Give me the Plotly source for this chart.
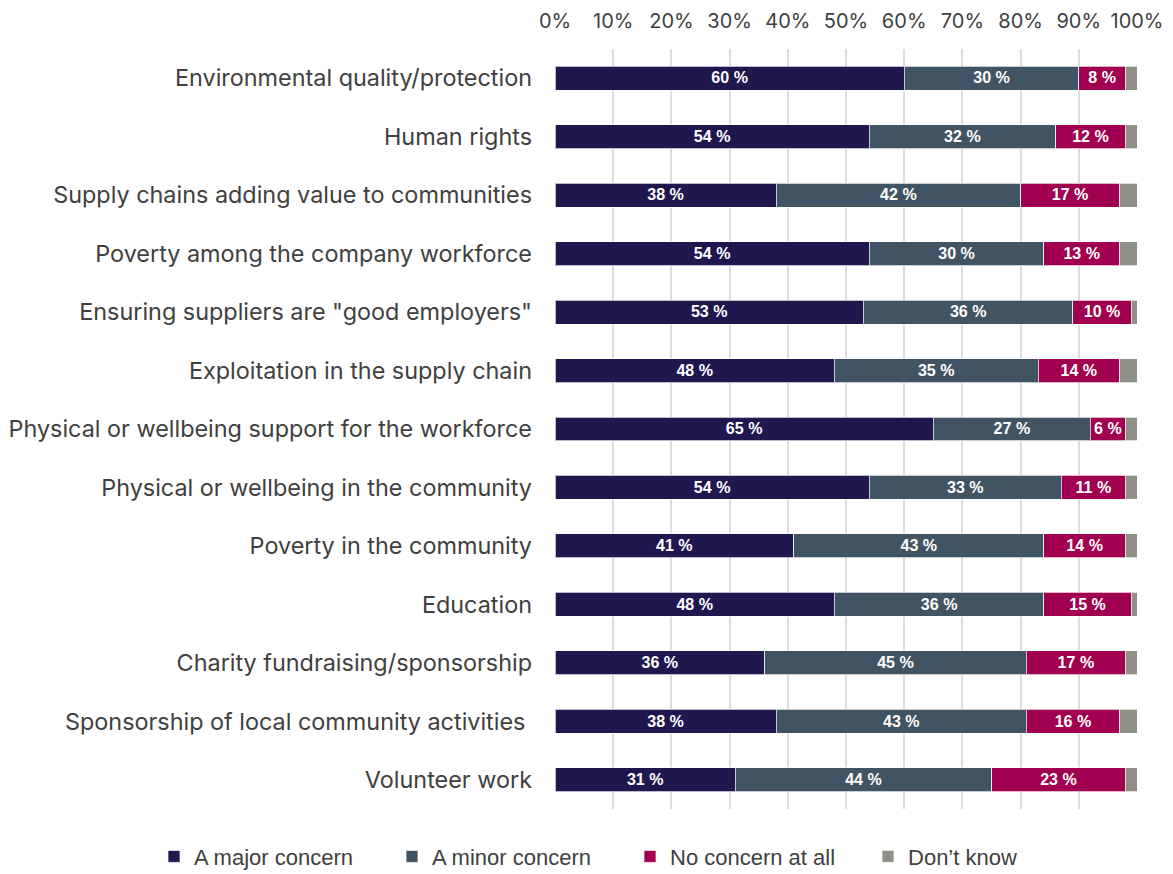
import plotly.graph_objects as go

categories = [
    "Environmental quality/protection",
    "Human rights",
    "Supply chains adding value to communities",
    "Poverty among the company workforce",
    'Ensuring suppliers are "good employers"',
    "Exploitation in the supply chain",
    "Physical or wellbeing support for the workforce",
    "Physical or wellbeing in the community",
    "Poverty in the community",
    "Education",
    "Charity fundraising/sponsorship",
    "Sponsorship of local community activities ",
    "Volunteer work",
]
major_concern = [60, 54, 38, 54, 53, 48, 65, 54, 41, 48, 36, 38, 31]
minor_concern = [30, 32, 42, 30, 36, 35, 27, 33, 43, 36, 45, 43, 44]
no_concern = [8, 12, 17, 13, 10, 14, 6, 11, 14, 15, 17, 16, 23]
dont_know = [100 - a - b - c for a, b, c in zip(major_concern, minor_concern, no_concern)]

tick_values = [0, 10, 20, 30, 40, 50, 60, 70, 80, 90, 100]
tick_labels = [f"{v}%" for v in tick_values]

series = [
    ("A major concern", major_concern, "#21174f", True),
    ("A minor concern", minor_concern, "#415464", True),
    ("No concern at all", no_concern, "#a0004f", True),
    ("Don\u2019t know", dont_know, "#8f8f88", False),
]

fig = go.Figure()
for name, vals, color, labelled in series:
    fig.add_trace(go.Bar(
        name=name,
        y=categories,
        x=vals,
        orientation="h",
        marker=dict(color=color, line=dict(color="rgba(255,255,255,0.7)", width=1)),
        text=[f"{v} %" for v in vals] if labelled else None,
        textposition="inside" if labelled else "none",
        insidetextanchor="middle",
        textangle=0,
        textfont=dict(family="Liberation Sans, Arial, sans-serif", size=17, color="white", weight="bold"),
        hoverinfo="skip",
    ))

fig.update_layout(
    barmode="stack",
    bargap=0.59,
    width=1173,
    height=874,
    margin=dict(l=555, r=36, t=49, b=65, autoexpand=False),
    plot_bgcolor="white",
    paper_bgcolor="white",
    uniformtext=dict(minsize=10, mode="show"),
    xaxis=dict(
        side="top",
        range=[0, 100],
        tickvals=tick_values,
        ticktext=tick_labels,
        showgrid=True,
        gridcolor="#dddddd",
        gridwidth=2,
        zeroline=False,
        showline=False,
        ticks="",
        ticklabelstandoff=16,
        tickfont=dict(family="Inter, sans-serif", size=20, color="#404040"),
        fixedrange=True,
    ),
    yaxis=dict(
        autorange="reversed",
        ticks="",
        showline=False,
        ticklabelstandoff=22,
        tickfont=dict(family="Inter, sans-serif", size=23.4, color="#404040"),
        fixedrange=True,
    ),
    legend=dict(
        orientation="h",
        x=-0.689,
        xanchor="left",
        y=-0.035,
        yanchor="top",
        traceorder="normal",
        font=dict(family="Liberation Sans, Arial, sans-serif", size=22, color="#404040"),
        entrywidth=193,
        entrywidthmode="pixels",
        itemwidth=30,
    ),
    showlegend=True,
)

fig.write_html("out.html")
